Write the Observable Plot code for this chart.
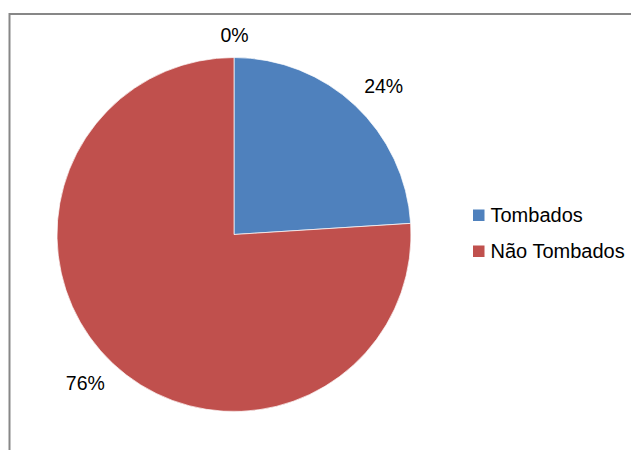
<!DOCTYPE html>
<html><head><meta charset="utf-8">
<script src="https://cdn.jsdelivr.net/npm/d3@7"></script>
<script src="https://cdn.jsdelivr.net/npm/@observablehq/plot@0.6"></script>
<style>body{margin:0;background:#fff} svg{display:block}</style>
</head><body><div id="chart"></div>
<script>
const categories = ["Tombados", "Não Tombados", ""];
const values = [24, 76, 0];
const labels = ["24%", "76%", "0%"];
const colors = ["#4F81BD", "#C0504D", "#9BBB59"];
const legendItems = ["Tombados", "Não Tombados"];

const W = 631, H = 450, cx = 234, cy = 234.5, R = 177;
const fontSize = 19.5;
const font = '"Liberation Sans", Arial, sans-serif';

const slices = d3.pie().sort(null).value((d, i) => values[i])(categories);

const ctx = document.createElement("canvas").getContext("2d");
ctx.font = `${fontSize}px "Liberation Sans"`;
const k = v => Math.abs(v) < 1e-6 ? 0 : Math.sign(v) * Math.min(1, Math.abs(v) * 1.5);
const labelData = slices.map(s => {
  const a = (s.startAngle + s.endAngle) / 2, sn = Math.sin(a), cs = Math.cos(a);
  const w = ctx.measureText(labels[s.index]).width / R, h = fontSize * 1.05 / R;
  return {text: labels[s.index], x: sn * 1.07 + k(sn) * w / 2, y: cs * 1.07 + k(cs) * h / 2};
});

const frameMark = () => {
  const g = d3.create("svg:g");
  g.append("path").attr("d", `M9.5,${H}V14H${W}`).attr("fill", "none")
    .attr("stroke", "#878787").attr("stroke-width", 2);
  return g.node();
};

const pieMark = (index, scales) => {
  const x = scales.x, y = scales.y;
  const ox = x(0), oy = y(0), r = x(1) - x(0);
  const arc = d3.arc().innerRadius(0).outerRadius(r);
  const g = d3.create("svg:g").attr("transform", `translate(${ox},${oy})`);
  g.selectAll("path").data(slices.filter(s => s.value > 0)).join("path")
    .attr("d", arc).attr("fill", d => colors[d.index])
    .attr("stroke", "#fff").attr("stroke-width", 0.7);
  return g.node();
};

const legendMark = () => {
  const g = d3.create("svg:g").attr("font-family", font).attr("font-size", 20)
    .attr("text-anchor", "start");
  legendItems.forEach((name, i) => {
    const y0 = 209.5 + i * 36;
    g.append("rect").attr("x", 473).attr("y", y0).attr("width", 11.5).attr("height", 11.5)
      .attr("fill", colors[categories.indexOf(name)]);
    g.append("text").attr("x", 490.5).attr("y", y0 + 12.5).attr("fill", "#000")
      .attr("text-anchor", "start").text(name);
  });
  return g.node();
};

const chart = Plot.plot({
  width: W, height: H,
  margin: 0,
  x: {domain: [-cx / R, (W - cx) / R], axis: null},
  y: {domain: [-(H - cy) / R, cy / R], axis: null},
  marks: [
    frameMark,
    pieMark,
    Plot.text(labelData, {x: "x", y: "y", text: "text", fontSize, fontFamily: font,
      fill: "#000", textAnchor: "middle", lineAnchor: "middle"}),
    legendMark
  ]
});
document.getElementById("chart").append(chart);
</script>
</body></html>
